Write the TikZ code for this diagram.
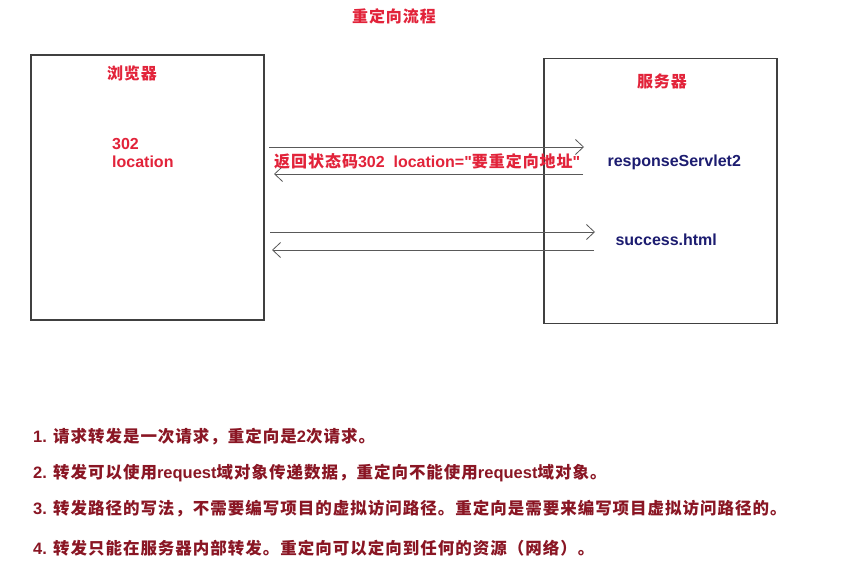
\documentclass[tikz,border=0pt]{standalone}
\usepackage{fontspec}
\setmainfont{Liberation Sans}[Ligatures=TeXOff]
\newfontfamily\cjk{Noto Sans CJK SC}[LetterSpace=6]
\usetikzlibrary{arrows.meta}
\definecolor{tred}{HTML}{E2233A}
\definecolor{navy}{HTML}{1C1C70}
\definecolor{darkred}{HTML}{8A1624}
\tikzset{
  box/.style={draw=black!75, line width=1.1pt, minimum width=233pt, minimum height=265pt, inner sep=0pt},
  msg/.style={draw=black!65, line width=0.8pt, -{Straight Barb[length=8pt,width=15pt,line width=0.8pt]}},
  head/.style={text=tred, font=\cjk\bfseries\fontsize{16}{18}\selectfont},
  code/.style={text=navy, font=\bfseries\fontsize{16}{18}\selectfont, anchor=west},
  note/.style={text=darkred, font=\bfseries\fontsize{16.5}{18}\selectfont, anchor=west, inner sep=0pt}
}
\begin{document}
\begin{tikzpicture}[x=1pt,y=-1pt]
      \useasboundingbox[fill=white] (0,0) rectangle (850,567);
      \node[head] (title) at (394,16) {重定向流程};
      \node[box] (browser) at (147.5,187.5) {};
      \node[box] (server) at (660.5,191) {};
      \node[head] (browsername) at (132,73) {浏览器};
      \node[head] (servername) at (662,81) {服务器};
      \node[text=tred, font=\bfseries\fontsize{16}{18}\selectfont, align=left, anchor=north west, inner sep=0pt] (reply) at (112,138) {302\\location};
      \node[code] (servlet) at (604,162) {responseServlet2};
      \node[code] (page) at (612,240) {success.html};
      % first request and the 302 answer
      \coordinate (req1a) at (269,147);
      \coordinate (req1b) at (584,147);
      \coordinate (ans1a) at (583,174);
      \coordinate (ans1b) at (274,174);
      \draw[msg] (req1a) -- (req1b);
      \draw[msg] (ans1a) -- (ans1b);
      \node[text=tred, font=\bfseries\fontsize{16}{18}\selectfont, anchor=west, inner sep=0pt] (status) at (274,161) {{\cjk 返回状态码}302\ \ location="{\cjk 要重定向地址}"};
      % second request
      \coordinate (req2a) at (270,232);
      \coordinate (req2b) at (595,232);
      \coordinate (ans2a) at (594,250);
      \coordinate (ans2b) at (272,250);
      \draw[msg] (req2a) -- (req2b);
      \draw[msg] (ans2a) -- (ans2b);
      % notes
      \node[note] (n1) at (33,437) {1. {\cjk 请求转发是一次请求，重定向是}2{\cjk 次请求。}};
      \node[note] (n2) at (33,473) {2. {\cjk 转发可以使用}request{\cjk 域对象传递数据，重定向不能使用}request{\cjk 域对象。}};
      \node[note] (n3) at (33,509) {3. {\cjk 转发路径的写法，不需要编写项目的虚拟访问路径。重定向是需要来编写项目虚拟访问路径的。}};
      \node[note] (n4) at (33,548) {4. {\cjk 转发只能在服务器内部转发。重定向可以定向到任何的资源（网络）。}};
\end{tikzpicture}
\end{document}
